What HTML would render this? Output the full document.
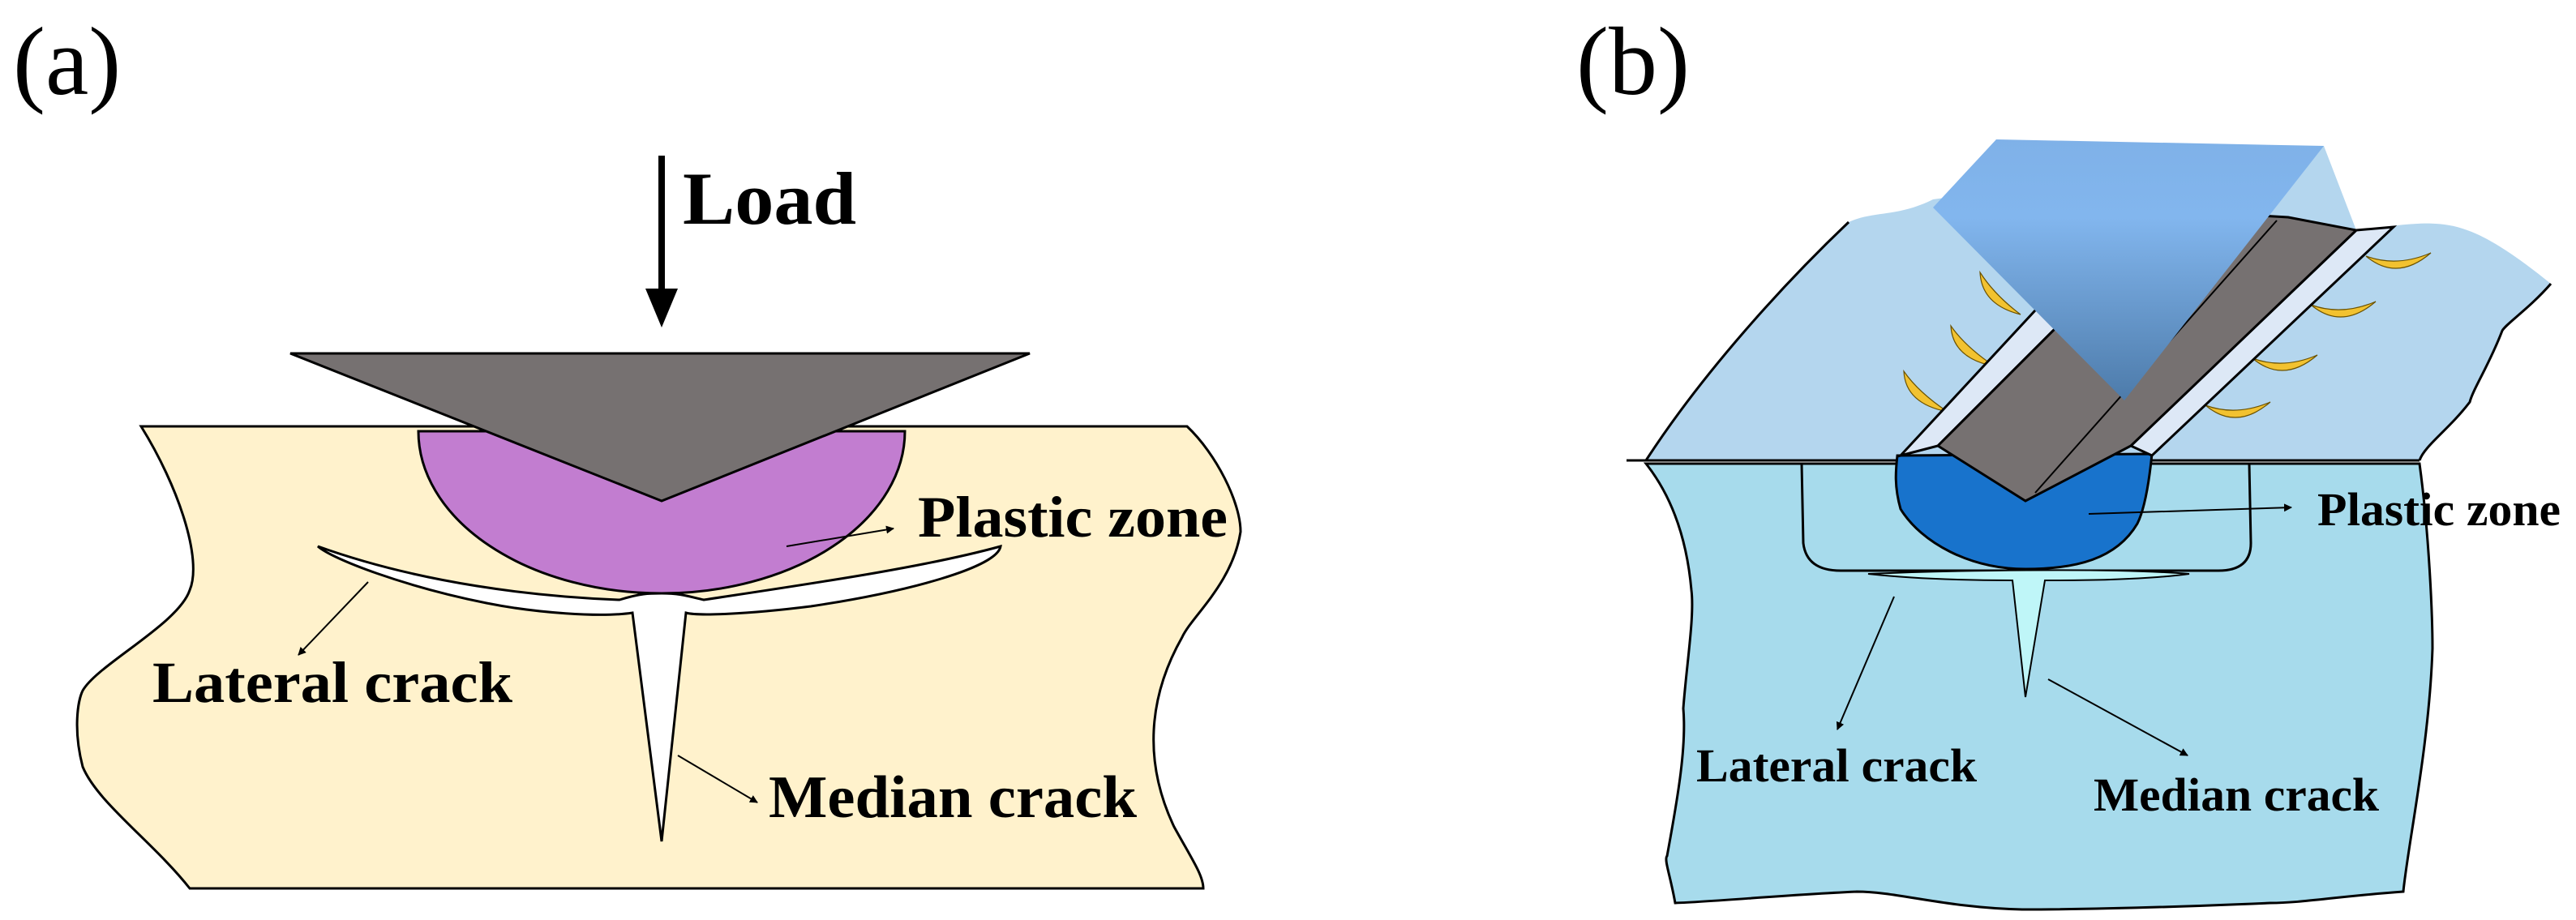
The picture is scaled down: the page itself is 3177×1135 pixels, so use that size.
<!DOCTYPE html>
<html><head><meta charset="utf-8"><style>html,body{margin:0;padding:0;background:#fff}svg{display:block}</style></head>
<body>
<svg width="3177" height="1135" viewBox="0 0 1588.5 567.5" xmlns="http://www.w3.org/2000/svg" font-family="Liberation Serif, serif">
<defs>
<linearGradient id="pg" x1="0" y1="0" x2="0" y2="1">
<stop offset="0" stop-color="#7FB1E8"/><stop offset="0.3" stop-color="#82B6EE"/><stop offset="1" stop-color="#4D7BAA"/></linearGradient>
<marker id="ah" viewBox="0 0 10 10" refX="9" refY="5" markerWidth="5" markerHeight="5" orient="auto"><path d="M0,0 L10,5 L0,10 z" fill="#000"/></marker>
</defs>
<!-- Panel a -->
<text x="8" y="58" font-size="60">(a)</text>
<line x1="408" y1="96" x2="408" y2="182" stroke="#000" stroke-width="4"/>
<path d="M398,178 L418,178 L408,202 z" fill="#000"/>
<text x="421" y="138" font-size="46" font-weight="bold" textLength="107" lengthAdjust="spacingAndGlyphs">Load</text>
<path d="M87,263 L732,263 C750,280 765,310 765,328 C760,360 735,380 729,393 C708,430 705,470 724,510 C735,530 742,540 742,548 L117,548 C95,520 60,495 51,473 C45,450 48,432 51,426 C60,410 110,385 117,364 C125,345 110,300 87,263 z" fill="#FFF2CC" stroke="#000" stroke-width="1.5"/>
<path d="M258,266 L558,266 A150,100 0 0 1 258,266 z" fill="#C27DD0" stroke="#000" stroke-width="1.5"/>
<path d="M179,218 L635,218 L408,309 z" fill="#767171" stroke="#000" stroke-width="1.5"/>
<path d="M196,337 C260,360 330,368 382,370 C395,366 400,366 408,366 C420,366 425,368 434,370 C500,360 570,350 617,337 C615,350 560,365 500,374 C460,379 430,380 423,378 L408,519 L390,378 C370,381 330,378 300,372 C250,362 205,345 196,337 z" fill="#fff" stroke="#000" stroke-width="1.5"/>
<line x1="485" y1="337" x2="551" y2="326" stroke="#000" stroke-width="1" marker-end="url(#ah)"/>
<text x="566" y="331" font-size="36" font-weight="bold" textLength="191" lengthAdjust="spacingAndGlyphs">Plastic zone</text>
<line x1="227" y1="359" x2="184" y2="404" stroke="#000" stroke-width="1" marker-end="url(#ah)"/>
<text x="94" y="433" font-size="36" font-weight="bold" textLength="222" lengthAdjust="spacingAndGlyphs">Lateral crack</text>
<line x1="418" y1="466" x2="467" y2="495" stroke="#000" stroke-width="1" marker-end="url(#ah)"/>
<text x="474" y="504" font-size="37" font-weight="bold" textLength="227" lengthAdjust="spacingAndGlyphs">Median crack</text>

<!-- Panel b -->
<text x="972" y="58" font-size="60">(b)</text>
<path d="M1015,284 C1050,230 1100,175 1140,137 C1155,130 1170,134 1192,123 L1433,90 L1453,142 C1470,140 1490,137 1502,138 C1520,139 1537,146 1573,175 C1560,190 1545,200 1543,204 C1535,225 1525,240 1523,248 C1510,265 1495,275 1492,284 z" fill="#B4D6EE" stroke="none"/>
<path d="M1015,284 C1050,230 1100,175 1140,137" fill="none" stroke="#000" stroke-width="1.5"/>
<path d="M1573,175 C1560,190 1545,200 1543,204 C1535,225 1525,240 1523,248 C1510,265 1495,275 1492,284" fill="none" stroke="#000" stroke-width="1.5"/>
<path d="M1015,286 L1492,286 C1498,330 1500,380 1500,400 C1498,460 1485,520 1482,550 C1440,553 1420,557 1400,557 C1330,560 1280,561 1247,561 C1200,560 1170,550 1145,550 C1100,552 1060,556 1033,557 C1030,540 1026,530 1028,528 C1035,490 1040,460 1038,437 C1040,410 1045,380 1043,364 C1040,330 1030,305 1015,286 z" fill="#A7DBEC" stroke="#000" stroke-width="1.5"/>
<line x1="1003" y1="284" x2="1492" y2="284" stroke="#000" stroke-width="1.5"/>
<path d="M1111,286 L1112,335 Q1114,352 1135,352 L1368,352 Q1388,352 1388,335 L1387,286" fill="none" stroke="#000" stroke-width="1.5"/>
<path d="M1152,354 C1200,352 1300,350 1350,354 C1320,358 1280,358 1261,358 L1249,430 L1241,358 C1210,358 1180,357 1152,354 z" fill="#BFF6F8" stroke="#000" stroke-width="1"/>
<path d="M1170,281 L1327,280 C1325,300 1322,315 1318,323 C1305,345 1280,351 1249,351 C1215,351 1185,335 1172,314 C1168,300 1169,290 1170,281 z" fill="#1873CC" stroke="#000" stroke-width="1.5"/>
<!-- crescents -->
<g fill="#F2C230" stroke="#6b5200" stroke-width="0.6">
<path d="M1221,168 Q1222,188 1246,194 Q1230,182 1221,168 z"/>
<path d="M1203,201 Q1204,221 1230,226 Q1212,214 1203,201 z"/>
<path d="M1174,229 Q1175,249 1201,254 Q1183,242 1174,229 z"/>
<path d="M1459,158 Q1478,174 1499,156 Q1478,165 1459,158 z"/>
<path d="M1425,188 Q1444,204 1465,186 Q1444,195 1425,188 z"/>
<path d="M1389,221 Q1408,237 1429,219 Q1408,228 1389,221 z"/>
<path d="M1360,250 Q1379,266 1400,248 Q1379,257 1360,250 z"/>
</g>
<path d="M1172,281 L1195,275 L1340,130 L1312,130 z" fill="#DDE8F6" stroke="#000" stroke-width="1.5"/>
<path d="M1314,275 L1327,281 L1476,140 L1453,142 z" fill="#DDE8F6" stroke="#000" stroke-width="1.5"/>
<path d="M1195,275 L1249,309 L1314,275 L1453,142 L1411,134 L1340,130 z" fill="#767171" stroke="#000" stroke-width="1.5"/>
<line x1="1404" y1="136" x2="1255" y2="304" stroke="#000" stroke-width="1"/>
<path d="M1192,128 L1231,86 L1433,90 L1310,247 z" fill="url(#pg)"/>
<line x1="1288" y1="317" x2="1413" y2="313" stroke="#000" stroke-width="1" marker-end="url(#ah)"/>
<text x="1429" y="324" font-size="29" font-weight="bold" textLength="150" lengthAdjust="spacingAndGlyphs">Plastic zone</text>
<line x1="1168" y1="368" x2="1133" y2="450" stroke="#000" stroke-width="1" marker-end="url(#ah)"/>
<text x="1046" y="482" font-size="29" font-weight="bold" textLength="173" lengthAdjust="spacingAndGlyphs">Lateral crack</text>
<line x1="1263" y1="419" x2="1349" y2="466" stroke="#000" stroke-width="1" marker-end="url(#ah)"/>
<text x="1291" y="500" font-size="29" font-weight="bold" textLength="176" lengthAdjust="spacingAndGlyphs">Median crack</text>
</svg>
</body></html>
